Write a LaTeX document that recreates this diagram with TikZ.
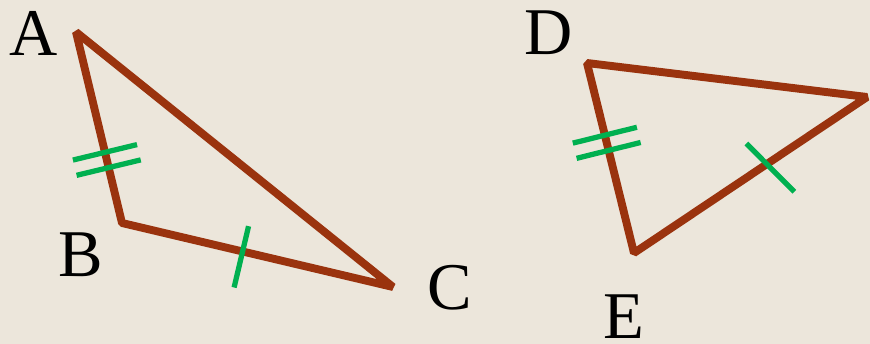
\documentclass[tikz,border=0pt]{standalone}
\usepackage{fontspec}
\setmainfont{Liberation Serif}
\usepackage{tikz}
\usetikzlibrary{calc}
\definecolor{brick}{RGB}{154,51,14}
\definecolor{hashgreen}{RGB}{0,176,80}
\definecolor{paper}{RGB}{236,230,219}

\begin{document}
\begin{tikzpicture}[
    x=0.02cm, y=-0.02cm,
    % Styles for sides, equal-length marks and vertex letters
    side/.style={draw=brick, line width=4.5pt, line join=bevel},
    hashmark/.style={draw=hashgreen, line width=3pt},
    vertex/.style={inner sep=0pt, text=black, font=\fontsize{38}{40}\selectfont}
]

% -----------------------------------------------------------
% Canvas
% -----------------------------------------------------------
\useasboundingbox (0,0) rectangle (870,344);
\fill[paper] (0,0) rectangle (870,344);

% -----------------------------------------------------------
% Triangle ABC
% -----------------------------------------------------------
\coordinate (A) at (76,32);
\coordinate (B) at (122,223);
\coordinate (C) at (393,287);
\node[vertex] (labA) at (34,33) {A};
\node[vertex] (labB) at (81,255) {B};
\node[vertex] (labC) at (450,288) {C};
\draw[side] (A) -- (B) -- (C) -- cycle;

% -----------------------------------------------------------
% Triangle DEF
% -----------------------------------------------------------
\coordinate (D) at (587,63);
\coordinate (E) at (634,253);
\coordinate (F) at (867,97);
\node[vertex] (labD) at (549,33) {D};
\node[vertex] (labE) at (624,317) {E};
\draw[side] (D) -- (E) -- (F) -- cycle;

% -----------------------------------------------------------
% Equal-length marks
% -----------------------------------------------------------
\coordinate (ab1) at ($(A)!0.63!(B)$);
\coordinate (ab2) at ($(A)!0.71!(B)$);
\draw[hashmark] ($(ab1)!0.66cm!90:(B)$) -- ($(ab1)!0.66cm!-90:(B)$);
\draw[hashmark] ($(ab2)!0.66cm!90:(B)$) -- ($(ab2)!0.66cm!-90:(B)$);

\coordinate (de1) at ($(D)!0.38!(E)$);
\coordinate (de2) at ($(D)!0.46!(E)$);
\draw[hashmark] ($(de1)!0.66cm!90:(E)$) -- ($(de1)!0.66cm!-90:(E)$);
\draw[hashmark] ($(de2)!0.66cm!90:(E)$) -- ($(de2)!0.66cm!-90:(E)$);

\coordinate (bc) at ($(B)!0.445!(C)$);
\draw[hashmark] ($(bc)!0.52cm!90:(C)$) -- ($(bc)!0.74cm!-90:(C)$);

\coordinate (ef) at ($(E)!0.57!(F)$);
\draw[hashmark] ($(ef)!0.58cm!101:(F)$) -- ($(ef)!0.78cm!-79:(F)$);

\end{tikzpicture}
\end{document}
